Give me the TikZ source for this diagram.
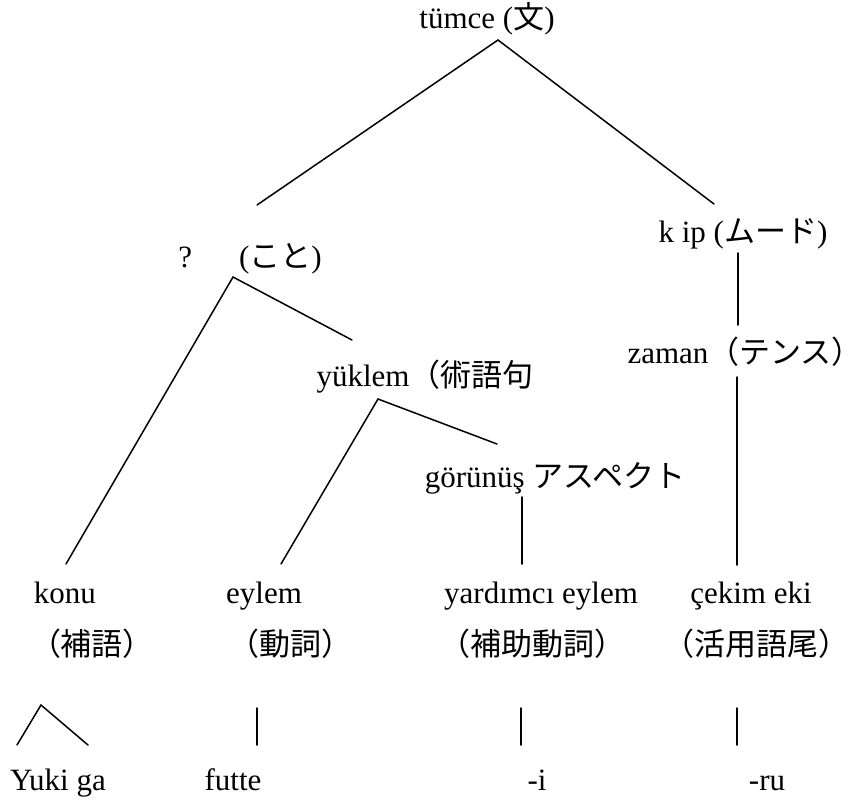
\documentclass[tikz,border=0pt]{standalone}
\usepackage{fontspec}
\setmainfont{Liberation Serif}
\newfontfamily\jp{Noto Sans CJK JP}
\usetikzlibrary{calc}

\tikzset{
  word/.style={anchor=base,inner sep=0pt,font=\fontsize{31}{36}\selectfont},
  branch/.style={line width=1.5pt,line cap=round}
}

\begin{document}
\begin{tikzpicture}[x=1pt,y=-1pt]
\useasboundingbox (0,0) rectangle (865,807);

\node[word] (tumce) at (487,28) {tümce ({\jp 文})};
\node[word] (koto) at (250,267) {?\hspace{47pt}({\jp こと})};
\node[word] (kip) at (743,242) {k ip ({\jp ムード})};
\node[word] (yuklem) at (425,386) {yüklem{\jp （術語句}};
\node[word,anchor=base east] (zaman) at (863,363) {zaman{\jp （テンス）}};
\node[word] (gorunus) at (555,487) {görünüş {\jp アスペクト}};

% leaves
\node[word] (konu) at (65,603) {konu};
\node[word] (eylem) at (264,603) {eylem};
\node[word] (yardimci) at (541,603) {yardımcı eylem};
\node[word] (cekim) at (751,603) {çekim eki};
\node[word] (hogo) at (92,655) {\jp （補語）};
\node[word] (doshi) at (290,655) {\jp （動詞）};
\node[word] (hojo) at (532,655) {\jp （補助動詞）};
\node[word] (katsuyo) at (756,655) {\jp （活用語尾）};

\node[word] (yuki) at (58,790) {Yuki ga};
\node[word] (futte) at (233,790) {futte};
\node[word] (i) at (537,790) {-i};
\node[word] (ru) at (767,790) {-ru};

\draw[branch] ($(koto.base)+(7,-62)$) -- ($(tumce.base)+(11,12)$) -- ($(kip.base)+(-29,-38)$);
\draw[branch] ($(konu.base)+(1,-39)$) -- ($(koto.base)+(-17,10)$) -- ($(yuklem.base)+(-73,-46)$);
\draw[branch] ($(eylem.base)+(17,-39)$) -- ($(yuklem.base)+(-47,13)$) -- ($(gorunus.base)+(-58,-43)$);
\draw[branch] ($(gorunus.base)+(-33,10)$) -- ($(yardimci.base)+(-19,-39)$);
\draw[branch] ($(kip.base)+(-5,11)$) -- ($(zaman.base east)+(-125,-38)$);
\draw[branch] ($(zaman.base east)+(-126,14)$) -- ($(cekim.base)+(-14,-38)$);

\draw[branch] ($(yuki.base)+(-41,-45)$) -- ($(hogo.base)+(-51,50)$) -- ($(yuki.base)+(30,-45)$);
\draw[branch] ($(doshi.base)+(-33,53)$) -- ($(futte.base)+(24,-45)$);
\draw[branch] ($(hojo.base)+(-11,53)$) -- ($(i.base)+(-16,-45)$);
\draw[branch] ($(katsuyo.base)+(-19,53)$) -- ($(ru.base)+(-30,-45)$);
\end{tikzpicture}
\end{document}
